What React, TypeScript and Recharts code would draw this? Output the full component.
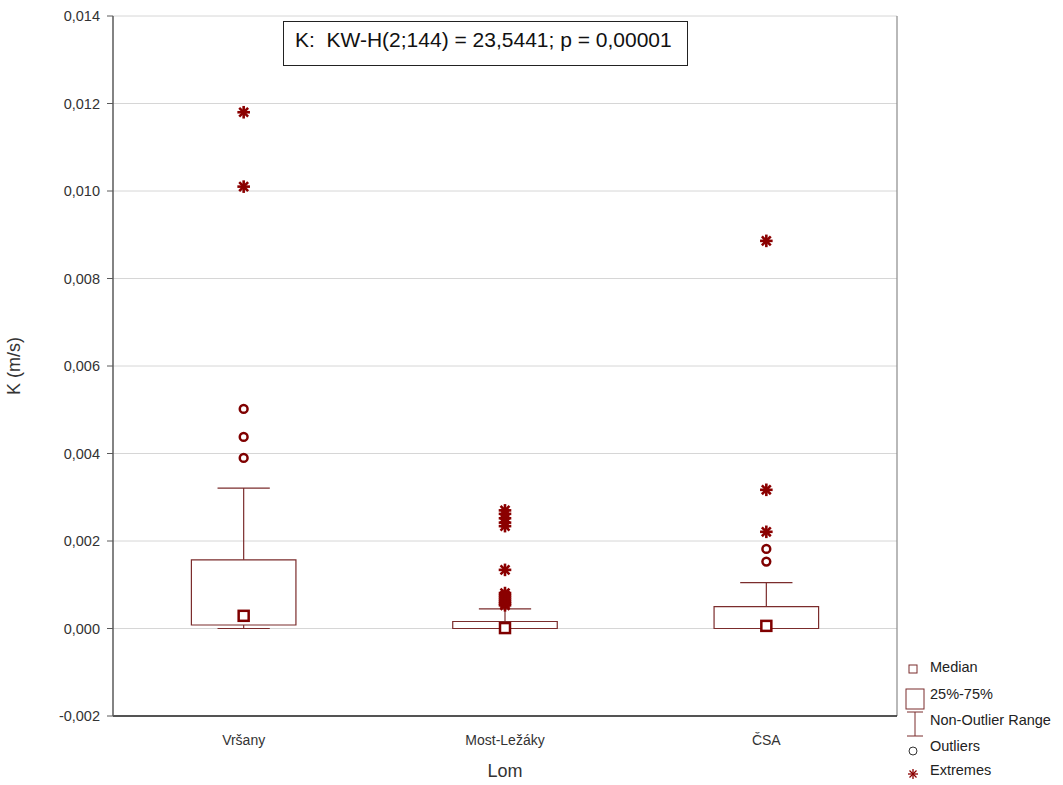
import { ScatterChart, Scatter, XAxis, YAxis, CartesianGrid, ReferenceArea, ReferenceLine } from "recharts";

const categories = ["Vršany", "Most-Ležáky", "ČSA"];
const q1 = [0.00008, 0.0, 0.0];
const q3 = [0.00157, 0.00016, 0.0005];
const medians = [0.00029, 0.00001, 0.00006];
const whiskerLow = [0.0, 0.0, 0.0];
const whiskerHigh = [0.00321, 0.00045, 0.00105];
const outliers = [[0.00502, 0.00438, 0.0039], [], [0.00182, 0.00153]];
const extremes = [
  [0.0118, 0.0101],
  [0.0027, 0.00262, 0.00252, 0.00242, 0.00234, 0.00134, 0.00081, 0.00076, 0.00071, 0.00066, 0.00061, 0.00057, 0.00053],
  [0.00886, 0.00317, 0.00221],
];
const yTicks = [-0.002, 0, 0.002, 0.004, 0.006, 0.008, 0.01, 0.012, 0.014];
const legendLabels = ["Median", "25%-75%", "Non-Outlier Range", "Outliers", "Extremes"];

const BOX = "#7b2c2c";
const MARK = "#7f0000";
const FONT = "'Liberation Sans', Arial, sans-serif";

const medianPts = medians.map((v, i) => ({ x: i + 0.5, y: v }));
const outlierPts = outliers.flatMap((vals, i) => vals.map((v) => ({ x: i + 0.5, y: v })));
const extremePts = extremes.flatMap((vals, i) => vals.map((v) => ({ x: i + 0.5, y: v })));

const MedianShape = (p: any) => (
  <rect x={p.cx - 5} y={p.cy - 5} width={10} height={10} fill="#fff" stroke={MARK} strokeWidth={2.5} />
);
const OutlierShape = (p: any) => <circle cx={p.cx} cy={p.cy} r={3.9} fill="#fff" stroke={MARK} strokeWidth={2.5} />;
const StarShape = (p: any) => {
  const r = 6.3;
  const d = r * 0.7071;
  return (
    <g stroke="#8b0000" strokeWidth={2.6}>
      <line x1={p.cx - r} y1={p.cy} x2={p.cx + r} y2={p.cy} />
      <line x1={p.cx} y1={p.cy - r} x2={p.cx} y2={p.cy + r} />
      <line x1={p.cx - d} y1={p.cy - d} x2={p.cx + d} y2={p.cy + d} />
      <line x1={p.cx - d} y1={p.cy + d} x2={p.cx + d} y2={p.cy - d} />
    </g>
  );
};

// legend sits outside the plot, bottom right
const LegendBox = () => (
  <svg width={163} height={130} style={{ position: "absolute", left: 900, top: 655, fontFamily: FONT }}>
    <rect x={9} y={10} width={8} height={8} fill="#fff" stroke={BOX} strokeWidth={1} />
    <rect x={6} y={34} width={18} height={20} fill="#fff" stroke={BOX} strokeWidth={1} />
    <g stroke={BOX} strokeWidth={1}>
      <line x1={7} y1={57} x2={23} y2={57} />
      <line x1={15} y1={57} x2={15} y2={81} />
      <line x1={7} y1={81} x2={23} y2={81} />
    </g>
    <circle cx={13} cy={96} r={4} fill="#fff" stroke="#333" strokeWidth={1} />
    <g stroke="#8b0000" strokeWidth={1.3}>
      <line x1={8} y1={119} x2={18} y2={119} />
      <line x1={13} y1={114} x2={13} y2={124} />
      <line x1={9.5} y1={115.5} x2={16.5} y2={122.5} />
      <line x1={9.5} y1={122.5} x2={16.5} y2={115.5} />
    </g>
    {legendLabels.map((t, i) => (
      <text key={t} x={30} y={[12, 39, 65, 91, 115][i]} dominantBaseline="central" fontSize={14.5} fill="#222">
        {t}
      </text>
    ))}
  </svg>
);

export default function App() {
  return (
    <div style={{ position: "absolute", left: 0, top: 0, width: 1063, height: 785, background: "#fff", fontFamily: FONT }}>
      <ScatterChart width={1063} height={785} margin={{ top: 16, right: 166, left: 0, bottom: 0 }}>
        <CartesianGrid vertical={false} stroke="#d6d6d6" />
        <XAxis
          type="number"
          dataKey="x"
          domain={[0, 3]}
          ticks={[0.5, 1.5, 2.5]}
          tickFormatter={(v: number) => categories[Math.floor(v)]}
          height={69}
          tickLine={false}
          tickMargin={13}
          axisLine={{ stroke: "#222", strokeWidth: 1.5 }}
          tick={{ fontSize: 14, fill: "#333" }}
          label={{ value: "Lom", position: "insideBottom", offset: 8, style: { fontSize: 18, fill: "#333" } }}
        />
        <XAxis xAxisId="t" type="number" orientation="top" domain={[0, 3]} height={0} tick={false} axisLine={{ stroke: "#222", strokeWidth: 1.5 }} />
        <YAxis
          type="number"
          dataKey="y"
          domain={[-0.002, 0.014]}
          ticks={yTicks}
          width={113}
          tickSize={6}
          tickMargin={7}
          tickFormatter={(v: number) => v.toFixed(3).replace(".", ",")}
          axisLine={{ stroke: "#5a5a5a", strokeWidth: 1.5 }}
          tickLine={{ stroke: "#5a5a5a" }}
          tick={{ fontSize: 14.5, fill: "#333" }}
          label={{ value: "K (m/s)", angle: -90, position: "insideLeft", offset: 14, style: { fontSize: 18, fill: "#333", textAnchor: "middle" } }}
        />
        {/* right frame edge */}
        <ReferenceLine x={3} stroke="#8a8a8a" strokeWidth={1.2} />
        {categories.map((c, i) => (
          <ReferenceArea key={"box" + c} x1={i + 0.3} x2={i + 0.7} y1={q1[i]} y2={q3[i]} fill="#fff" fillOpacity={1} stroke={BOX} strokeWidth={1.2} />
        ))}
        {categories.map((c, i) => (
          <ReferenceLine key={"wu" + c} segment={[{ x: i + 0.5, y: q3[i] }, { x: i + 0.5, y: whiskerHigh[i] }]} stroke={BOX} strokeWidth={1.2} />
        ))}
        {categories.map((c, i) => (
          <ReferenceLine key={"wl" + c} segment={[{ x: i + 0.5, y: whiskerLow[i] }, { x: i + 0.5, y: q1[i] }]} stroke={BOX} strokeWidth={1.2} />
        ))}
        {categories.map((c, i) => (
          <ReferenceLine key={"cu" + c} segment={[{ x: i + 0.4, y: whiskerHigh[i] }, { x: i + 0.6, y: whiskerHigh[i] }]} stroke={BOX} strokeWidth={1.2} />
        ))}
        {categories.map((c, i) => (
          <ReferenceLine key={"cl" + c} segment={[{ x: i + 0.4, y: whiskerLow[i] }, { x: i + 0.6, y: whiskerLow[i] }]} stroke={BOX} strokeWidth={1.2} />
        ))}
        <Scatter name="Median" data={medianPts} shape={MedianShape} isAnimationActive={false} />
        <Scatter name="Outliers" data={outlierPts} shape={OutlierShape} isAnimationActive={false} />
        <Scatter name="Extremes" data={extremePts} shape={StarShape} isAnimationActive={false} />
      </ScatterChart>
      <LegendBox />
      <div
        style={{
          position: "absolute",
          left: 283,
          top: 21,
          width: 405,
          height: 45,
          boxSizing: "border-box",
          border: "1px solid #222",
          paddingLeft: 11,
          paddingTop: 6,
          fontSize: 21,
          lineHeight: "24px",
          color: "#111",
          background: "#fff",
          whiteSpace: "pre",
        }}
      >
        {"K:  KW-H(2;144) = 23,5441; p = 0,00001"}
      </div>
    </div>
  );
}
